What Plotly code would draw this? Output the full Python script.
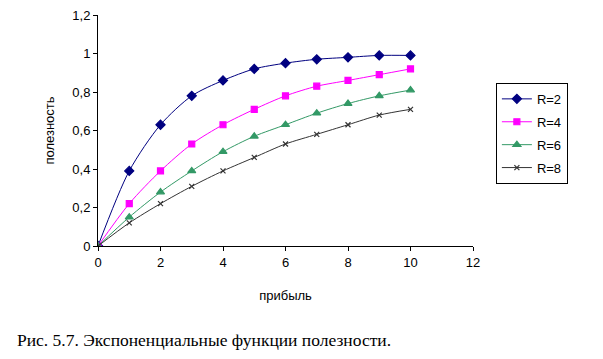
import plotly.graph_objects as go

x_vals = [0, 1, 2, 3, 4, 5, 6, 7, 8, 9, 10]
r2 = [0, 0.39, 0.63, 0.78, 0.86, 0.92, 0.95, 0.97, 0.98, 0.99, 0.99]
r4 = [0, 0.22, 0.39, 0.53, 0.63, 0.71, 0.78, 0.83, 0.86, 0.89, 0.92]
r6 = [0, 0.15, 0.28, 0.39, 0.49, 0.57, 0.63, 0.69, 0.74, 0.78, 0.81]
r8 = [0, 0.12, 0.22, 0.31, 0.39, 0.46, 0.53, 0.58, 0.63, 0.68, 0.71]
names = ["R=2", "R=4", "R=6", "R=8"]

series = [r2, r4, r6, r8]
colors = ["#000080", "#FF00FF", "#339966", "#333333"]
symbols = ["diamond", "square", "triangle-up", "x-thin"]
sizes = [7, 6, 7, 5]

fig = go.Figure()
for name, ys, c, s, sz in zip(names, series, colors, symbols, sizes):
    fig.add_trace(go.Scatter(
        x=x_vals, y=ys, name=name, mode="lines+markers", legendgroup=name,
        line=dict(color=c, width=1, shape="spline", smoothing=0.8),
        marker=dict(symbol=s, size=sz, color=c, line=dict(color=c, width=1.2)),
    ))

axis_font = dict(family="Liberation Sans, Arial, sans-serif", size=13, color="black")

fig.update_layout(
    width=595, height=351,
    margin=dict(l=90, r=130, t=7, b=113, autoexpand=False),
    paper_bgcolor="white", plot_bgcolor="white",
    separators=", ",
    font=axis_font,
    showlegend=True,
    legend=dict(
        x=1.061, y=0.706, xanchor="left", yanchor="top",
        bordercolor="black", borderwidth=1, bgcolor="white",
        font=dict(family="Liberation Sans, Arial, sans-serif", size=13, color="black"),
        itemwidth=30, tracegroupgap=3,
    ),
    xaxis=dict(
        range=[0, 12], dtick=2, tick0=0, showgrid=False, zeroline=False,
        showline=True, linecolor="black", linewidth=1,
        ticks="outside", ticklen=4, tickcolor="black", automargin=False,
        tickfont=axis_font, ticklabeloverflow="allow",
        title=dict(text="прибыль", font=axis_font, standoff=22),
    ),
    yaxis=dict(
        range=[0, 1.2], dtick=0.2, tick0=0, showgrid=False, zeroline=False,
        showline=True, linecolor="black", linewidth=1,
        ticks="outside", ticklen=4, tickcolor="black", automargin=False,
        tickfont=axis_font, ticklabeloverflow="allow",
        title=dict(text="полезность", font=axis_font, standoff=14),
    ),
    annotations=[dict(
        text="Рис. 5.7. Экспоненциальные функции полезности.",
        xref="paper", yref="paper", x=0.283, y=-0.407,
        xanchor="center", yanchor="middle", showarrow=False,
        font=dict(family="Liberation Serif, Times New Roman, Times, serif", size=17.5, color="black"),
    )],
)

fig.write_html("out.html")
